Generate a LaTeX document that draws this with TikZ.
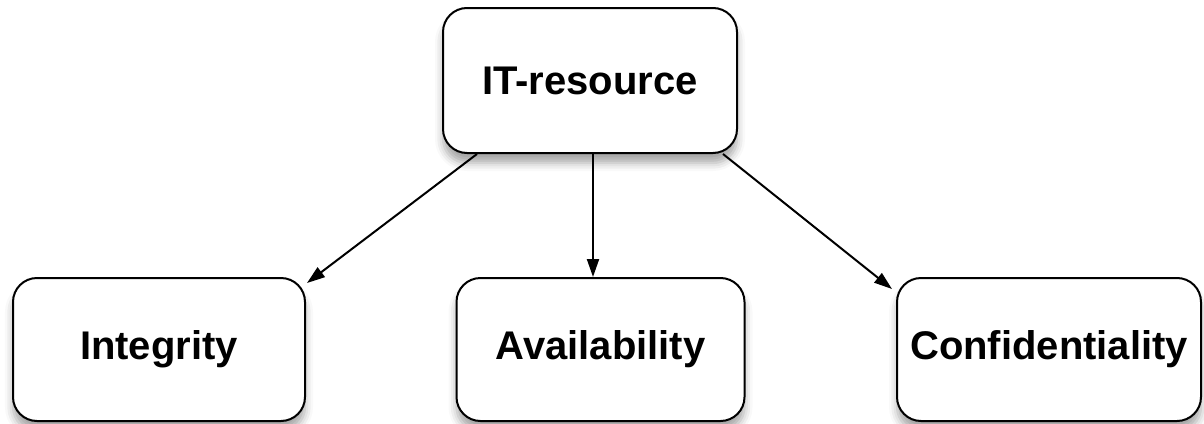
\documentclass[tikz,border=0pt]{standalone}
\usepackage{fontspec}
\setmainfont{Liberation Sans}
\usepackage{tikz}
\usetikzlibrary{arrows.meta, shadows.blur}

\begin{document}
\begin{tikzpicture}[x=0.5pt, y=-0.5pt,
    propbox/.style={draw=black, line width=1pt, rounded corners=12pt, fill=white,
        blur shadow={shadow xshift=0pt, shadow yshift=-5pt, shadow blur radius=4pt, shadow opacity=35},
        align=center, inner sep=0pt, font=\boxfontsize\bfseries},
    linkarrow/.style={line width=1pt, -{Triangle[length=9pt, width=6pt]}}]
\def\boxfontsize{\fontsize{20}{24}\selectfont}
\useasboundingbox (0, 0) rectangle (1204, 423);

% TOP BOX
\node [propbox, minimum width=147pt, minimum height=72.5pt] (itres) at (590, 80.5) {IT-resource};

% BOTTOM ROW
\node [propbox, minimum width=146pt, minimum height=71.5pt] (integ) at (159, 349.5) {Integrity};
\node [propbox, minimum width=144pt, minimum height=71.5pt] (avail) at (600.5, 349.5) {Availability};
\node [propbox, minimum width=152pt, minimum height=71.5pt] (confid) at (1049, 349.5) {Confidentiality};

% ARROWS
\draw [linkarrow] ([xshift=17.5pt]itres.south west) -- ([xshift=0.5pt, yshift=-3pt]integ.north east);
\draw [linkarrow] ([xshift=1.5pt]itres.south) -- ([xshift=-3.75pt]avail.north);
\draw [linkarrow] ([xshift=-7.5pt]itres.south east) -- ([xshift=-2pt, yshift=-6pt]confid.north west);
\end{tikzpicture}
\end{document}
